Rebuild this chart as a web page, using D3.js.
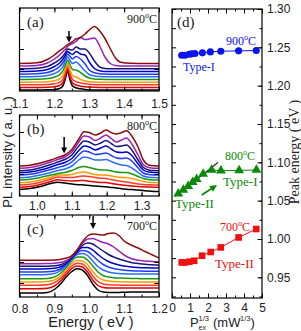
<!DOCTYPE html>
<html><head><meta charset="utf-8">
<script src="https://cdn.jsdelivr.net/npm/d3@7"></script>
<style>
html,body{margin:0;padding:0;background:#fff;}
svg{display:block;}
</style></head><body>
<svg id="chart" width="301" height="331"></svg>
<script>
// ---------------- DATA ----------------
// Panel (a) 900°C PL spectra (intensity in a.u.)
const energyA = [1.10,1.15,1.18,1.20,1.215,1.225,1.232,1.238,1.244,1.252,1.262,1.275,1.288,1.30,1.315,1.33,1.345,1.36,1.375,1.39,1.42,1.46,1.50];
const spectraA = [
 [1.0,1.0,1.2,1.5,2.5,5.5,13,20,12,5,3.2,2.2,1.6,1.3,1.1,1.0,1.0,1.0,1.0,1.0,1.0,1.0,1.0],
 [3.6,3.6,3.8,4.3,5.5,8.5,16,22.5,15,8,6,4.8,4.2,3.9,3.7,3.6,3.6,3.6,3.6,3.6,3.6,3.6,3.6],
 [6.2,6.2,6.5,7.2,8.7,12,19,25,18.5,11.5,9.5,8,7.2,6.7,6.4,6.2,6.2,6.2,6.2,6.2,6.2,6.2,6.2],
 [8.8,8.9,9.3,10.3,12.2,16,22.5,28,22,15.5,14,11.5,10,9.3,9,8.8,8.8,8.8,8.8,8.8,8.8,8.8,8.8],
 [11.5,11.7,12.4,13.8,16.3,20.5,26.5,31,27,21.5,21,18.5,15,13,12,11.7,11.5,11.5,11.5,11.5,11.5,11.5,11.5],
 [14.2,14.5,15.5,17.5,20.5,24.5,30,34,31,27.5,29,25,20,16.5,15,14.5,14.2,14.2,14.2,14.2,14.2,14.2,14.2],
 [16.8,17.2,18.5,21,24.5,28.5,33,37,35,32,34.5,32,27,21,18.2,17.2,16.9,16.8,16.8,16.8,16.8,16.8,16.8],
 [19.5,20,21.5,24.5,28,32,36,39.5,38,36.5,39.5,37,36,29,22.5,20.2,19.6,19.5,19.5,19.5,19.5,19.5,19.5],
 [22.2,22.8,24.5,28,31.5,35,38.5,42,41.5,41,44,42,42,38,30,24,22.5,22.2,22.2,22.2,22.2,22.2,22.2],
 [25,25.6,28,32,36,39.5,42,44.5,46,47.5,49.5,53.5,51.5,52,53,45,34,27.5,25.5,25.1,25,25,25],
 [27.5,28.2,31.5,36,40.3,42.7,44.7,46.5,47.5,49.3,52,53.5,57,61,64.5,60,52.5,42.5,33,28.7,27.7,27.5,27.5]
];
// Panel (b) 800°C
const energyB = [0.95,0.98,1.01,1.04,1.06,1.08,1.10,1.12,1.135,1.15,1.167,1.183,1.198,1.213,1.228,1.243,1.257,1.272,1.29,1.305,1.32,1.335,1.35];
const spectraB = [
 [6.5,7.5,9.5,12.5,13.8,13,12,11.3,11,10.6,10,9.6,9.2,8.6,8,7.3,6.8,6.4,6,5.5,5,4.6,4.4],
 [8.7,9.5,11.5,14.5,16.3,15.5,15,15.3,15.5,14.8,14,13.6,13.4,12.6,11.8,11,10.6,10,9.5,9.2,9,8.8,8.7],
 [11,11.8,13.8,17,19,18.5,18.5,19.5,20,19.5,18.5,17.8,17.5,16.5,15.5,14.5,14,13,12,11.5,11.2,11,11],
 [13.3,14,16,19,21,21,21.5,23.5,24,23,21.5,21,21,20,19,18.5,18.5,17.5,16,14.5,13.8,13.4,13.3],
 [16,16.7,18.5,21,22.5,23.5,25.5,28.5,29.5,28.5,27,26,26,25,24,23.5,23.5,22,19.5,17.5,16.5,16.1,16],
 [18.3,19,21,23.5,25.5,27,30,36,39,38,36,36,36.5,34.5,32.5,31,30.5,28,23.5,20,18.8,18.4,18.3],
 [21,21.7,23.8,26.5,28.5,30.5,34,41,45,44,41.5,42,43,40.5,38,37.5,38,35,28,23,21.5,21.1,21],
 [23.3,24,26,29,31.5,33.5,37.5,45.5,50,49,46,48,50,47,44,43.5,44,40.5,32,26,23.9,23.4,23.3],
 [25.3,26,28.3,31.5,34,36.5,41,50,55,54,51,53,55.5,52.5,49.5,50,51,46,36,28.5,26,25.4,25.3],
 [27.7,28.5,30.8,34,36.5,39,44,54,60,59,55.5,58,61,57.5,54,56,58,52,41,31.5,28.5,27.8,27.7],
 [30,30.8,33,36,38.5,41,46.5,57,64.3,63.5,61,63,66,63.5,62,63.5,65.3,60,49,36,31,30.2,30]
];
// Panel (c) 700°C
const energyC = [0.80,0.85,0.88,0.90,0.92,0.935,0.95,0.965,0.98,0.995,1.01,1.025,1.04,1.055,1.07,1.085,1.10,1.12,1.14,1.16,1.18,1.20];
const spectraC = [
 [4,4,4.5,7.5,14,20.5,25.5,28.3,27,21.5,13,7,5,4.6,4.5,4.6,4.8,5,5,5,5,5],
 [8.3,8.3,8.8,11,17,23,28.5,31,30,25,17,11.5,9.5,9,9,9,9,9,9,9,9,9],
 [11.7,11.7,12.2,14.3,19.5,25.5,31,33.8,33,28.5,21,15.5,13,12.2,12,11.9,11.8,11.7,11.7,11.7,11.7,11.7],
 [15,15,15.4,17,22,28,33.5,36.5,36,32.5,25.5,20,17,16,15.5,15.3,15.2,15,15,15,15,15],
 [18.3,18.3,18.6,20,24.5,30,36,40,40,37,31,25,21.5,20,19.3,19,18.8,18.5,18.4,18.3,18.3,18.3],
 [22.3,22.3,22.6,23.5,27,32,38,42.5,43.5,41.5,36,30.5,27,25,24,23.5,23.2,23,23,23,23,23],
 [25,25,25.2,26,28.5,33,38.5,44,46.5,45.5,41.5,36.5,32.5,30,28.5,27.5,26.8,26.2,26,25.8,25.7,25.7],
 [28,28,28.2,28.7,30.5,34,39,45,49.5,49.5,47,42.5,38.5,35.5,33.5,32,31,30,29.5,29.2,29,29],
 [30.7,30.7,30.8,31.2,32.5,35,39.5,46,51.5,54,53,49.5,46,42.5,40,38,36.5,34.5,33.5,32.7,32.2,31.7],
 [33.3,33.3,33.4,33.7,34.7,36.5,40.5,47,53.5,58,58.5,56.5,54.5,53,50,46,42,38.5,36.8,36,35.5,35],
 [36.7,36.7,36.8,37,37.8,39,41.5,47,55,61,63,62.5,62,63.5,64,61.5,56,52,49,45.5,42.3,39]
];
// Arrow energies (marked peak)
const arrowE = [1.242, 1.078, 1.011];
// Tick labels
const ticksA = [1.1,1.2,1.3,1.4,1.5];
const ticksB = [1.0,1.1,1.2,1.3];
const ticksC = [0.8,0.9,1.0,1.1,1.2];
const ticksDx = [0,1,2,3,4,5];
const ticksDy = [0.95,1.00,1.05,1.10,1.15,1.20,1.25,1.30];
// Panel (d) peak energy vs P^(1/3)
const p900 = [0.54,0.72,0.96,1.09,1.27,1.69,2.13,2.71,3.70,4.68];
const e900 = [1.2397,1.2397,1.2410,1.2415,1.2419,1.2428,1.2440,1.2449,1.2454,1.2458];
const p800 = [0.35,0.63,0.90,1.15,1.37,1.73,2.20,2.72,3.73,4.69];
const e800 = [1.059,1.064,1.069,1.074,1.078,1.085,1.090,1.089,1.0895,1.090];
const p700 = [0.54,0.72,0.96,1.23,1.67,2.15,2.71,3.70,4.68];
const e700 = [0.9694,0.9694,0.9703,0.9716,0.9782,0.9830,0.9890,1.0020,1.0130];
const fitLine = [[0.17,1.0556],[2.56,1.100]];

// ---------------- STYLE ----------------
const colors = ["#000000","#e00000","#ff3a2a","#ff9a00","#169a16","#2a6cff","#1f3cff","#0000c8","#17177a","#9a22b4","#8b0d0d"];
const SANS = "'Liberation Sans', Arial, sans-serif";
const SERIF = "'Liberation Serif', 'Times New Roman', serif";
const svg = d3.select("#chart");
const L = 19.5, R = 159;

function styleAxis(g){
  g.select(".domain").remove();
  g.selectAll(".tick line").attr("stroke","#000").attr("stroke-width",1);
  g.selectAll(".tick text").attr("font-family",SANS).attr("font-size",12).attr("fill","#222");
}

function spectraPanel(cfg, idx){
  const x = d3.scaleLinear().domain(cfg.xDomain).range([L,R]);
  const y = d3.scaleLinear().domain([0,cfg.yMax]).range([cfg.bottom,cfg.top]);
  const g = svg.append("g");
  const cid = "clip"+idx;
  svg.append("defs").append("clipPath").attr("id",cid)
    .append("rect").attr("x",L).attr("y",cfg.top).attr("width",R-L).attr("height",cfg.bottom-cfg.top);
  const line = d3.line().x((d,i)=>x(cfg.energy[i])).y(d=>y(d)).curve(d3.curveMonotoneX);
  const cg = g.append("g").attr("clip-path","url(#"+cid+")");
  cfg.curves.forEach((c,i)=>{
    cg.append("path").attr("d",line(c)).attr("fill","none")
      .attr("stroke",colors[i]).attr("stroke-width",1.5).attr("stroke-linejoin","round");
  });
  const minor = d3.range(cfg.xDomain[0], cfg.xDomain[1]+1e-9, 0.05);
  g.append("g").attr("transform",`translate(0,${cfg.bottom})`)
    .call(d3.axisBottom(x).tickValues(minor).tickSize(-2.5).tickFormat("")).call(styleAxis);
  g.append("g").attr("transform",`translate(0,${cfg.top})`)
    .call(d3.axisTop(x).tickValues(minor).tickSize(-2.5).tickFormat("")).call(styleAxis);
  g.append("g").attr("transform",`translate(0,${cfg.bottom})`)
    .call(d3.axisBottom(x).tickValues(cfg.ticks).tickSize(-4.5).tickPadding(cfg.pad).tickFormat(d3.format(".1f"))).call(styleAxis);
  g.append("g").attr("transform",`translate(0,${cfg.top})`)
    .call(d3.axisTop(x).tickValues(cfg.ticks).tickSize(-4.5).tickFormat("")).call(styleAxis);
  g.append("g").attr("transform",`translate(${L},0)`)
    .call(d3.axisLeft(y).tickValues(cfg.yTicks).tickSize(-4.5).tickFormat("")).call(styleAxis);
  g.append("g").attr("transform",`translate(${R},0)`)
    .call(d3.axisRight(y).tickValues(cfg.yTicks).tickSize(-4.5).tickFormat("")).call(styleAxis);
  g.append("rect").attr("x",L).attr("y",cfg.top).attr("width",R-L).attr("height",cfg.bottom-cfg.top)
    .attr("fill","none").attr("stroke","#000").attr("stroke-width",1.2);
  const ax = x(cfg.arrow);
  g.append("line").attr("x1",ax).attr("x2",ax).attr("y1",cfg.arrowY[0]).attr("y2",cfg.arrowY[1]-4)
    .attr("stroke","#000").attr("stroke-width",1.5);
  g.append("path").attr("d",`M${ax-3},${cfg.arrowY[1]-6} L${ax+3},${cfg.arrowY[1]-6} L${ax},${cfg.arrowY[1]} Z`).attr("fill","#000");
  g.append("text").attr("x",27).attr("y",cfg.top+19).attr("font-family",SERIF).attr("font-size",15).attr("fill","#222").text(cfg.label);
  const t = g.append("text").attr("x",157).attr("y",cfg.top+15).attr("text-anchor","end")
    .attr("font-family",SERIF).attr("font-size",12).attr("fill","#222");
  t.append("tspan").text(cfg.temp);
  t.append("tspan").attr("dy",-5).attr("font-size",8).text("o");
  t.append("tspan").attr("dy",5).text("C");
}

spectraPanel({xDomain:[1.1,1.5],yMax:83,top:8,bottom:91,energy:energyA,curves:spectraA,ticks:ticksA,pad:8.5,
  yTicks:[22,42,62],arrow:arrowE[0],arrowY:[31,42.5],label:"(a)",temp:"900"},0);
spectraPanel({xDomain:[0.95,1.35],yMax:81,top:115,bottom:196,energy:energyB,curves:spectraB,ticks:ticksB,pad:5.5,
  yTicks:[22,43,64],arrow:arrowE[1],arrowY:[137,153.5],label:"(b)",temp:"800"},1);
spectraPanel({xDomain:[0.8,1.2],yMax:82,top:215,bottom:297,energy:energyC,curves:spectraC,ticks:ticksC,pad:7,
  yTicks:[14,35,56],arrow:arrowE[2],arrowY:[216,229],label:"(c)",temp:"700"},2);

svg.append("text").attr("transform","translate(12,152) rotate(-90)").attr("text-anchor","middle")
  .attr("font-family",SANS).attr("font-size",13).attr("fill","#222").text("PL intensity ( a. u. )");
svg.append("text").attr("x",91).attr("y",327).attr("text-anchor","middle")
  .attr("font-family",SANS).attr("font-size",14.5).attr("fill","#222").text("Energy ( eV )");

// ---------------- PANEL (d) ----------------
(function(){
  const DL=172, DR=262, DT=9, DB=298;
  const x = d3.scaleLinear().domain([0,5]).range([DL,DR]);
  const y = d3.scaleLinear().domain([0.923,1.30]).range([DB,DT]);
  const g = svg.append("g");
  const minorX = d3.range(0,5.01,0.5);
  const minorY = d3.range(0.925,1.301,0.025);
  g.append("g").attr("transform",`translate(0,${DB})`).call(d3.axisBottom(x).tickValues(minorX).tickSize(-2.5).tickFormat("")).call(styleAxis);
  g.append("g").attr("transform",`translate(0,${DT})`).call(d3.axisTop(x).tickValues(minorX).tickSize(-2.5).tickFormat("")).call(styleAxis);
  g.append("g").attr("transform",`translate(0,${DB})`).call(d3.axisBottom(x).tickValues(ticksDx).tickSize(-4.5).tickPadding(5).tickFormat(d3.format("d"))).call(styleAxis);
  g.append("g").attr("transform",`translate(0,${DT})`).call(d3.axisTop(x).tickValues(ticksDx).tickSize(-4.5).tickFormat("")).call(styleAxis);
  g.append("g").attr("transform",`translate(${DL},0)`).call(d3.axisLeft(y).tickValues(minorY).tickSize(-4).tickFormat("")).call(styleAxis);
  g.append("g").attr("transform",`translate(${DR},0)`).call(d3.axisRight(y).tickValues(minorY).tickSize(-2.5).tickFormat("")).call(styleAxis);
  g.append("g").attr("transform",`translate(${DR},0)`).call(d3.axisRight(y).tickValues(ticksDy).tickSize(-4.5).tickPadding(5).tickFormat(d3.format(".2f"))).call(styleAxis);
  g.append("rect").attr("x",DL).attr("y",DT).attr("width",DR-DL).attr("height",DB-DT)
    .attr("fill","none").attr("stroke","#000").attr("stroke-width",1.2);

  const ln = d3.line().x(d=>x(d[0])).y(d=>y(d[1]));
  function series(px, pe, col, shape){
    const pts = px.map((v,i)=>[v,pe[i]]);
    g.append("path").attr("d",ln(pts)).attr("fill","none").attr("stroke",col).attr("stroke-width",1);
    const sym = d3.symbol().type(shape).size(shape===d3.symbolCircle?40:(shape===d3.symbolSquare?44:42));
    g.selectAll(null).data(pts).enter().append("path")
      .attr("transform",d=>`translate(${x(d[0])},${y(d[1])})`).attr("d",sym()).attr("fill",col);
  }
  series(p900,e900,"#0a14f0",d3.symbolCircle);
  g.append("path").attr("d",ln(fitLine)).attr("stroke","#000").attr("stroke-width",1.1).attr("fill","none");
  series(p800,e800,"#0a8a0a",d3.symbolTriangle);
  series(p700,e700,"#f01010",d3.symbolSquare);

  const a0=[1.65,1.0574], a1=[2.5,1.0704];
  const x0=x(a0[0]),y0=y(a0[1]),x1=x(a1[0]),y1=y(a1[1]);
  const ang=Math.atan2(y1-y0,x1-x0);
  g.append("line").attr("x1",x0).attr("y1",y0).attr("x2",x1-5*Math.cos(ang)).attr("y2",y1-5*Math.sin(ang))
    .attr("stroke","#0a8a0a").attr("stroke-width",1.8);
  const hx=x1, hy=y1, bl=7, bw=3.5;
  const bx=hx-bl*Math.cos(ang), by=hy-bl*Math.sin(ang);
  g.append("path").attr("d",`M${hx},${hy} L${bx+bw*Math.sin(ang)},${by-bw*Math.cos(ang)} L${bx-bw*Math.sin(ang)},${by+bw*Math.cos(ang)} Z`).attr("fill","#0a8a0a");

  function tempLabel(xp, yp, txt, col){
    const t=g.append("text").attr("x",xp).attr("y",yp).attr("font-family",SERIF).attr("font-size",12).attr("fill",col);
    t.append("tspan").text(txt);
    t.append("tspan").attr("dy",-5).attr("font-size",8).text("o");
    t.append("tspan").attr("dy",5).text("C");
  }
  function lab(xp,yp,txt,col,fs){
    g.append("text").attr("x",xp).attr("y",yp).attr("font-family",SERIF).attr("font-size",fs||12).attr("fill",col).text(txt);
  }
  g.append("text").attr("x",177).attr("y",27).attr("font-family",SERIF).attr("font-size",15).attr("fill","#222").text("(d)");
  tempLabel(226,45,"900","#0a14f0");
  lab(183,71,"Type-I","#0a14f0");
  tempLabel(225,160,"800","#0a8a0a");
  lab(223,186,"Type-I","#0a8a0a",13);
  lab(175,208,"Type-II","#0a8a0a",13);
  tempLabel(220,231,"700","#f01010");
  lab(215,268,"Type-II","#f01010",13);

  svg.append("text").attr("transform","translate(299,152) rotate(-90)").attr("text-anchor","middle")
    .attr("font-family",SERIF).attr("font-size",14).attr("fill","#222").text("Peak energy ( eV )");
  // P_ex^(1/3) (mW^(1/3)) axis title, built from separate text pieces
  const ty = 326.5;
  const tt = (xp, yp, s, fs) => svg.append("text").attr("x",xp).attr("y",yp).attr("font-family",SANS)
      .attr("font-size",fs).attr("fill","#222").text(s);
  tt(190, ty, "P", 13);
  tt(198.5, ty-6, "1/3", 7.5);
  tt(198.5, ty+3.5, "ex", 7);
  tt(213, ty, "(mW", 13);
  tt(240, ty-6, "1/3", 7.5);
  tt(250.5, ty, ")", 13);
})();
</script></body></html>
